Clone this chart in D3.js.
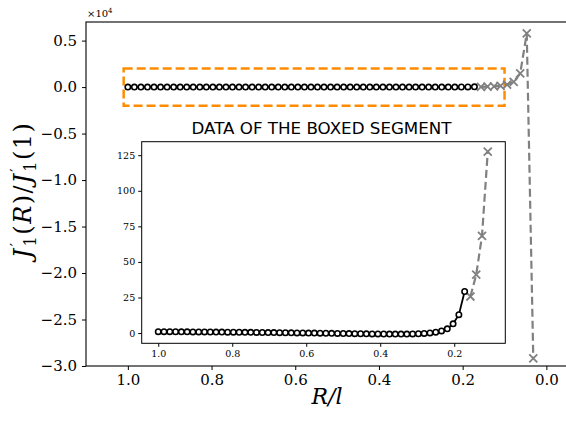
<!DOCTYPE html>
<html>
<head>
<meta charset="utf-8">
<script src="https://cdn.jsdelivr.net/npm/d3@7"></script>
<style>
body { margin: 0; background: #fff; }
.axis text { font-family: "DejaVu Serif", serif; fill: #000; }
.axis line { stroke: #000; }
</style>
</head>
<body>
<script>
// R/l values of the resolved points (circles) and their ratio
var rCirc = [1.0, 0.9844, 0.9688, 0.9531, 0.9375, 0.9219, 0.9063, 0.8906, 0.875, 0.8594,
  0.8438, 0.8281, 0.8125, 0.7969, 0.7813, 0.7656, 0.75, 0.7344, 0.7188, 0.7031,
  0.6875, 0.6719, 0.6563, 0.6406, 0.625, 0.6094, 0.5938, 0.5781, 0.5625, 0.5469,
  0.5313, 0.5156, 0.5, 0.4844, 0.4688, 0.4531, 0.4375, 0.4219, 0.4063, 0.3906,
  0.375, 0.3594, 0.3438, 0.3281, 0.3125, 0.2969, 0.2813, 0.2656, 0.25, 0.2344,
  0.2188, 0.2031, 0.1875, 0.1719];
var jCirc = [1.00, 0.98, 0.95, 0.92, 0.89, 0.86, 0.83, 0.80, 0.77, 0.74,
  0.70, 0.67, 0.63, 0.60, 0.56, 0.52, 0.48, 0.44, 0.40, 0.36,
  0.31, 0.27, 0.22, 0.17, 0.12, 0.07, 0.02, -0.03, -0.08, -0.14,
  -0.20, -0.26, -0.32, -0.38, -0.44, -0.50, -0.55, -0.60, -0.64, -0.67,
  -0.70, -0.72, -0.73, -0.71, -0.64, -0.50, -0.25, 0.10, 0.60, 1.50,
  3.00, 6.50, 12.90, 29.20];

// unresolved points (gray crosses)
var rCross = [0.1563, 0.1406, 0.125, 0.1094, 0.0938, 0.0781, 0.0625, 0.0469, 0.0313];
var jCross = [25.7, 41, 68.3, 127.5, 260, 570, 1470, 5770, -29170];

// box around the segment shown in the inset
var boxR = [1.01, 0.1];
var boxJ = [-2000, 2000];

var xTicks = [1.0, 0.8, 0.6, 0.4, 0.2, 0.0];
var yTicks = [0.5, 0.0, -0.5, -1.0, -1.5, -2.0, -2.5, -3.0];
var inXTicks = [1.0, 0.8, 0.6, 0.4, 0.2];
var inYTicks = [0, 25, 50, 75, 100, 125];

var circ = rCirc.map(function(r, i) { return [r, jCirc[i]]; });
var cross = rCross.map(function(r, i) { return [r, jCross[i]]; });

var W = 566, H = 423;
var mL = 86, mT = 22, mR = 567.3, mB = 366;

var svg = d3.select('body').append('svg')
  .attr('width', W).attr('height', H);

var x = d3.scaleLinear().domain([1.1, -0.05]).range([mL, mR]);
var y = d3.scaleLinear().domain([-30000, 7000]).range([mB, mT]);

function fmt(d) { return d3.format('.1f')(d).replace('-', '\u2212'); }

// main axes
svg.append('g').attr('class', 'axis')
  .attr('transform', 'translate(0,' + mB + ')')
  .call(d3.axisBottom(x).tickValues(xTicks).tickFormat(fmt).tickSize(4).tickPadding(4))
  .call(function(g) { g.select('.domain').remove(); })
  .selectAll('text').style('font-size', '15px');

svg.append('g').attr('class', 'axis')
  .attr('transform', 'translate(' + mL + ',0)')
  .call(d3.axisLeft(y).tickValues(yTicks.map(function(v) { return v * 1e4; }))
    .tickFormat(function(d) { return fmt(d / 1e4); }).tickSize(4).tickPadding(5))
  .call(function(g) { g.select('.domain').remove(); })
  .selectAll('text').style('font-size', '15px');

svg.append('rect')
  .attr('x', mL).attr('y', mT)
  .attr('width', mR - mL).attr('height', mB - mT)
  .attr('fill', 'none').attr('stroke', '#000').attr('stroke-width', 1.1);

// offset text
var off = svg.append('text').attr('x', 87).attr('y', 17)
  .style('font-family', '"DejaVu Serif", serif').style('font-size', '10px');
off.append('tspan').text('\u00d710');
off.append('tspan').attr('dy', -4).style('font-size', '7px').text('4');

// axis labels
svg.append('text')
  .attr('x', 327).attr('y', 404)
  .style('text-anchor', 'middle')
  .style('font-family', '"DejaVu Serif", serif').style('font-style', 'italic')
  .style('font-size', '22px')
  .text('R/l');

var yl = svg.append('text')
  .attr('transform', 'translate(31,' + 190 + ') rotate(-90)')
  .style('text-anchor', 'middle')
  .style('letter-spacing', '1.5px')
  .style('font-family', '"DejaVu Serif", serif').style('font-size', '24px');
function jPrime(t) {
  t.append('tspan').style('font-style', 'italic').text('J');
  t.append('tspan').attr('dx', 1).attr('dy', -10).style('font-size', '15px').text('\u2032');
  t.append('tspan').attr('dx', -5).attr('dy', 15).style('font-size', '16px').text('1');
  t.append('tspan').attr('dy', -5).text('(');
}
jPrime(yl);
yl.append('tspan').style('font-style', 'italic').text('R');
yl.append('tspan').text(')/');
jPrime(yl);
yl.append('tspan').text('1)');

svg.append('clipPath').attr('id', 'clipMain').append('rect')
  .attr('x', mL).attr('y', mT).attr('width', mR - mL).attr('height', mB - mT);

var main = svg.append('g').attr('clip-path', 'url(#clipMain)');

// orange box
main.append('rect')
  .attr('x', x(boxR[0])).attr('y', y(boxJ[1]))
  .attr('width', x(boxR[1]) - x(boxR[0])).attr('height', y(boxJ[0]) - y(boxJ[1]))
  .attr('fill', 'none').attr('stroke', '#ff8c00')
  .attr('stroke-width', 2.5).attr('stroke-dasharray', '9,4');

function drawSeries(g, xs, ys, cr, cs) {
  var ln = d3.line().x(function(d) { return xs(d[0]); }).y(function(d) { return ys(d[1]); });
  g.append('path').datum(cs)
    .attr('d', ln)
    .attr('fill', 'none').attr('stroke', 'gray')
    .attr('stroke-width', 2.2).attr('stroke-dasharray', '8,4');
  g.selectAll('.cx').data(cs).enter().append('path')
    .attr('class', 'cx')
    .attr('transform', function(d) { return 'translate(' + xs(d[0]) + ',' + ys(d[1]) + ')'; })
    .attr('d', 'M-4,-4L4,4M-4,4L4,-4')
    .attr('stroke', 'gray').attr('stroke-width', 1.8);
  g.append('path').datum(cr)
    .attr('d', ln)
    .attr('fill', 'none').attr('stroke', '#000').attr('stroke-width', 1.8);
  g.selectAll('.ci').data(cr).enter().append('circle')
    .attr('class', 'ci')
    .attr('cx', function(d) { return xs(d[0]); })
    .attr('cy', function(d) { return ys(d[1]); })
    .attr('r', 2.7)
    .attr('fill', '#fff').attr('stroke', '#000').attr('stroke-width', 1.6);
}

drawSeries(main, x, y, circ, cross);

// inset with the boxed data
var iL = 141.7, iT = 141.7, iR = 505.3, iB = 343.3;
var xi = d3.scaleLinear().domain([1.0447, 0.062]).range([iL, iR]);
var yi = d3.scaleLinear().domain([-7.2, 134.5]).range([iB, iT]);

svg.append('rect')
  .attr('x', iL).attr('y', iT).attr('width', iR - iL).attr('height', iB - iT)
  .attr('fill', '#fff');

svg.append('g').attr('class', 'axis')
  .attr('transform', 'translate(0,' + iB + ')')
  .call(d3.axisBottom(xi).tickValues(inXTicks).tickFormat(d3.format('.1f')).tickSize(3.5).tickPadding(3))
  .call(function(g) { g.select('.domain').remove(); })
  .selectAll('text').style('font-size', '9.5px');

svg.append('g').attr('class', 'axis')
  .attr('transform', 'translate(' + iL + ',0)')
  .call(d3.axisLeft(yi).tickValues(inYTicks).tickSize(3.5).tickPadding(3))
  .call(function(g) { g.select('.domain').remove(); })
  .selectAll('text').style('font-size', '9.5px');

svg.append('clipPath').attr('id', 'clipIn').append('rect')
  .attr('x', iL).attr('y', iT).attr('width', iR - iL).attr('height', iB - iT);

var inset = svg.append('g').attr('clip-path', 'url(#clipIn)');
var inBox = function(d) { return d[0] >= boxR[1] && d[0] <= boxR[0]; };
drawSeries(inset, xi, yi, circ.filter(inBox), cross.filter(inBox));

svg.append('rect')
  .attr('x', iL).attr('y', iT).attr('width', iR - iL).attr('height', iB - iT)
  .attr('fill', 'none').attr('stroke', '#000').attr('stroke-width', 1);

svg.append('text')
  .attr('x', (iL + iR) / 2 - 2).attr('y', 134.3)
  .attr('textLength', 260).attr('lengthAdjust', 'spacingAndGlyphs')
  .style('text-anchor', 'middle')
  .style('font-family', '"DejaVu Sans", sans-serif').style('font-size', '15px')
  .text('DATA OF THE BOXED SEGMENT');
</script>
</body>
</html>
